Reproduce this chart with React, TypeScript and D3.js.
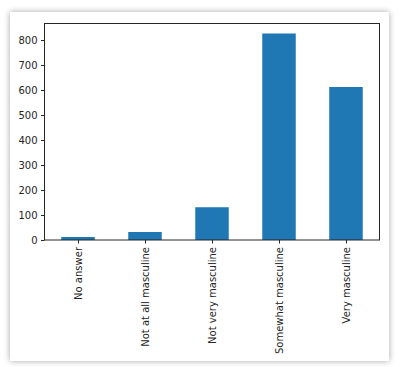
import React from "react";
import * as d3 from "d3";

const categories = ["No answer", "Not at all masculine", "Not very masculine", "Somewhat masculine", "Very masculine"];
const values = [12, 32, 131, 826, 612];
const yTicks = [0, 100, 200, 300, 400, 500, 600, 700, 800];

export default function App() {
  const W = 400, H = 367;
  const left = 44.5, right = 379.5, top = 23.5, bottom = 240;
  const x = d3.scaleLinear().domain([-0.5, categories.length - 0.5]).range([left, right]);
  const y = d3.scaleLinear().domain([0, 866]).range([bottom, top]);
  const bw = x(0.25) - x(-0.25);
  const font = "DejaVu Sans, sans-serif";
  const textColor = "#262626";
  return (
    <div style={{ position: "fixed", left: 0, top: 0 }}>
      <svg width={W} height={H} style={{ display: "block" }}>
        <defs>
          <filter id="sh" x="-10%" y="-10%" width="120%" height="120%">
            <feDropShadow dx="0" dy="0" stdDeviation="3" floodColor="#000" floodOpacity="0.35" />
          </filter>
        </defs>
        <rect x={0} y={0} width={W} height={H} fill="#fff" />
        <rect x={10} y={12} width={379} height={349} fill="#fff" filter="url(#sh)" />
        {categories.map((c, i) => (
          <rect key={c} x={x(i) - bw / 2} y={y(values[i])} width={bw} height={y(0) - y(values[i])} fill="#1f77b4" />
        ))}
        <rect x={left} y={top} width={right - left} height={bottom - top} fill="none" stroke="#262626" strokeWidth={1} />
        {yTicks.map((t) => (
          <g key={t}>
            <line x1={left - 3.5} x2={left} y1={Math.round(y(t)) + 0.5} y2={Math.round(y(t)) + 0.5} stroke="#262626" />
            <text x={left - 7} y={y(t)} dy="0.35em" textAnchor="end" fontFamily={font} fontSize={10} fill={textColor}>{t}</text>
          </g>
        ))}
        {categories.map((c, i) => (
          <g key={c}>
            <line x1={Math.round(x(i)) + 0.5} x2={Math.round(x(i)) + 0.5} y1={bottom} y2={bottom + 3.5} stroke="#262626" />
            <text transform={`translate(${x(i)},${bottom + 7}) rotate(-90)`} dy="0.35em" textAnchor="end" fontFamily={font} fontSize={10} fill={textColor}>{c}</text>
          </g>
        ))}
      </svg>
    </div>
  );
}
